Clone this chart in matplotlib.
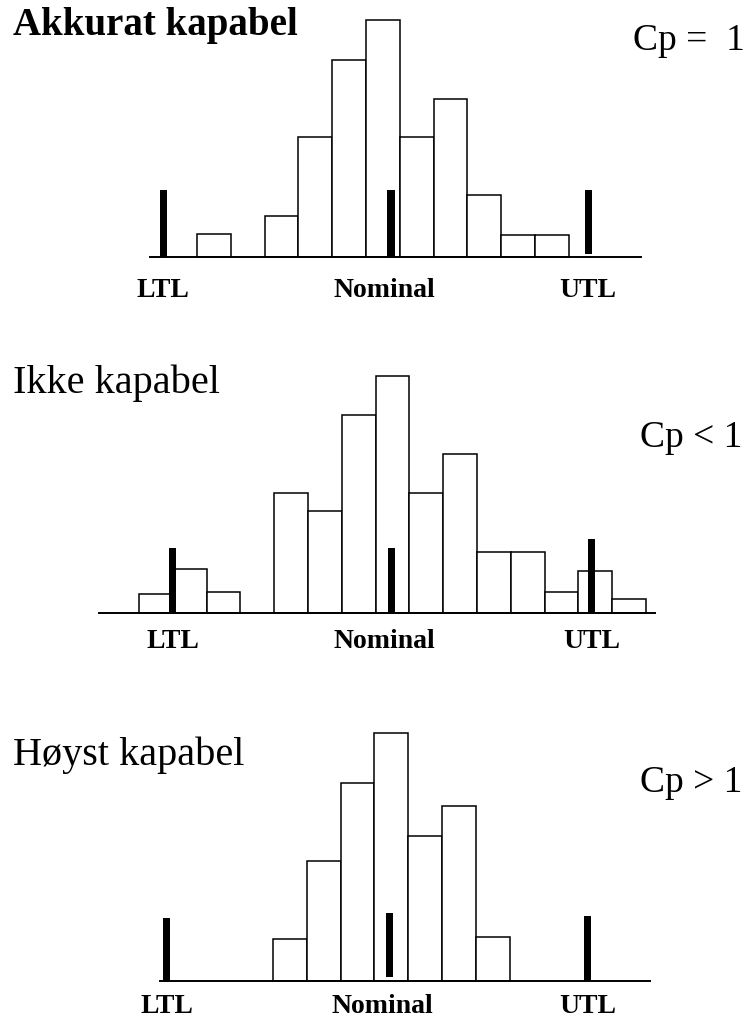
import matplotlib
matplotlib.use("Agg")
import matplotlib.pyplot as plt

plt.rcParams['font.family'] = ['Liberation Serif', 'DejaVu Serif']

# ---- data (bin index -> count), spec markers
titles = ["Akkurat kapabel", "Ikke kapabel", "Høyst kapabel"]
cp_labels = ["Cp =  1", "Cp < 1", "Cp > 1"]
marker_names = ["LTL", "Nominal", "UTL"]

bins1 = [0, 2, 3, 4, 5, 6, 7, 8, 9, 10]
counts1 = [1.15, 2.08, 6.1, 10.03, 12.03, 6.1, 8.05, 3.17, 1.14, 1.14]
marks1 = [-1.0, 5.74, 11.57]
mark_top1 = [3.39, 3.39, 3.39]
mark_bot1 = [0.0, 0.0, 0.17]

bins2 = [0, 1, 2, 4, 5, 6, 7, 8, 9, 10, 11, 12, 13, 14]
counts2 = [0.97, 2.24, 1.07, 6.1, 5.17, 10.05, 12.07, 6.1, 8.08, 3.08, 3.08, 1.07, 2.15, 0.73]
marks2 = [1.0, 7.47, 13.4]
mark_top2 = [3.3, 3.3, 3.78]
mark_bot2 = [0.0, 0.0, 0.0]

bins3 = [0, 1, 2, 3, 4, 5, 6]
counts3 = [2.14, 6.1, 10.05, 12.63, 7.39, 8.9, 2.25]
marks3 = [-3.14, 3.45, 9.3]
mark_top3 = [3.19, 3.44, 3.3]
mark_bot3 = [0.0, 0.19, 0.0]

panels = [
    (bins1, counts1, marks1, mark_top1, mark_bot1),
    (bins2, counts2, marks2, mark_top2, mark_bot2),
    (bins3, counts3, marks3, mark_top3, mark_bot3),
]

# ---- layout in pixels
W, H = 749, 1018
bin_px = 33.8       # width of one bin
unit_px = 19.67     # height of one count
# (baseline left, baseline right, bin-0 left edge, baseline y)
geom = [(150, 641, 197, 257), (99, 655, 139, 613), (160, 650, 273, 981)]
title_pos = [(13, 35), (13, 393), (13, 765)]
cp_pos = [(745, 50), (742, 447), (742, 792)]
label_drop = [29, 25, 23]          # points below baseline
label_dx = [0, -5, 0]              # points, per marker name
ymax = 13.5

fig = plt.figure(figsize=(W / 100, H / 100), dpi=100)

for i, (bins, counts, marks, mtop, mbot) in enumerate(panels):
    x0, x1, org, yb = geom[i]
    ax = fig.add_axes([x0 / W, 1 - yb / H, (x1 - x0) / W, ymax * unit_px / H])
    ax.set_xlim((x0 - org) / bin_px, (x1 - org) / bin_px)
    ax.set_ylim(0, ymax)
    ax.patch.set_visible(False)
    for s in ['top', 'left', 'right']:
        ax.spines[s].set_visible(False)
    ax.spines['bottom'].set_linewidth(1.4)
    ax.spines['bottom'].set_zorder(5)
    ax.set_xticks([])
    ax.set_yticks([])

    ax.bar(bins, counts, width=1, align='edge', facecolor='white',
           edgecolor='black', linewidth=1.1, clip_on=False, zorder=2)
    hts = [t - b for t, b in zip(mtop, mbot)]
    ax.bar(marks, hts, bottom=mbot, width=0.21, color='black',
           linewidth=0, clip_on=False, zorder=3)

    for m, name, dx in zip(marks, marker_names, label_dx):
        ax.annotate(name, xy=(m, 0), xytext=(dx, -label_drop[i]),
                    textcoords='offset points', ha='center', va='baseline',
                    fontsize=20, fontweight='bold', annotation_clip=False)

    tx, ty = title_pos[i]
    fig.text(tx / W, 1 - ty / H, titles[i], fontsize=28 if i == 0 else 29,
             fontweight='bold' if i == 0 else 'normal', ha='left', va='baseline')
    cx, cy = cp_pos[i]
    fig.text(cx / W, 1 - cy / H, cp_labels[i], fontsize=27, ha='right', va='baseline')

fig.savefig("out.png", dpi=100, facecolor='white')
